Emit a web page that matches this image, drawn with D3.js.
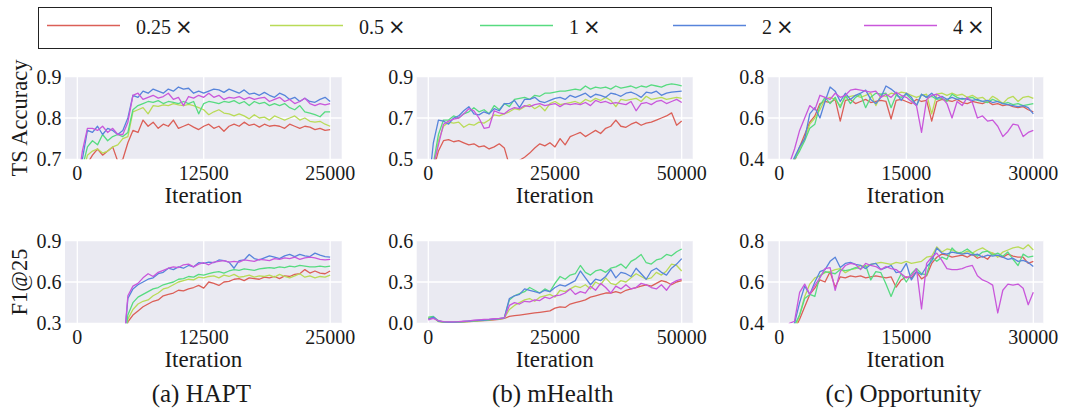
<!DOCTYPE html>
<html>
<head>
<meta charset="utf-8">
<script src="https://cdn.jsdelivr.net/npm/d3@7"></script>
<style>
  body { margin: 0; background: #fff; }
  svg text { font-family: "Liberation Serif", Tinos, "Times New Roman", Times, serif; fill: #1a1a1a; }
</style>
</head>
<body>
<svg id="chart" width="1066" height="413"></svg>
<script>
// legend / series
const seriesNames = ["0.25", "0.5", "1", "2", "4"];
const colors = ["#db5f57", "#b9db57", "#57db80", "#5784db", "#c957db"];

// evaluation iterations
const haptIters = d3.range(0, 25001, 500);
const mhIters = d3.range(0, 50001, 1000);
const oppIters = d3.range(0, 30001, 600);

const haptTicks = [0, 12500, 25000];
const mhTicks = [0, 25000, 50000];
const oppTicks = [0, 15000, 30000];

// HAPT - TS accuracy
const haptAcc025 = [0.55,0.64,0.69,0.71,0.725,0.71,0.72,0.73,0.695,0.7,0.74,0.77,0.765,0.795,0.78,0.79,0.775,0.785,0.78,0.795,0.775,0.78,0.785,0.778,0.772,0.78,0.785,0.775,0.78,0.768,0.78,0.785,0.78,0.79,0.782,0.785,0.778,0.785,0.78,0.782,0.78,0.775,0.785,0.78,0.775,0.78,0.778,0.772,0.775,0.77,0.772];
const haptAcc05 = [0.58,0.66,0.71,0.72,0.725,0.715,0.72,0.73,0.735,0.75,0.755,0.815,0.82,0.825,0.81,0.83,0.828,0.832,0.83,0.835,0.832,0.83,0.833,0.83,0.825,0.82,0.808,0.815,0.82,0.812,0.81,0.805,0.81,0.805,0.798,0.808,0.8,0.802,0.795,0.805,0.8,0.795,0.8,0.805,0.795,0.8,0.792,0.79,0.792,0.785,0.78];
const haptAcc1 = [0.6,0.68,0.73,0.745,0.735,0.76,0.745,0.755,0.76,0.755,0.765,0.82,0.83,0.835,0.84,0.838,0.842,0.835,0.84,0.838,0.835,0.84,0.835,0.84,0.81,0.835,0.84,0.838,0.835,0.84,0.838,0.842,0.835,0.84,0.83,0.84,0.835,0.838,0.83,0.835,0.83,0.835,0.825,0.82,0.83,0.815,0.812,0.808,0.803,0.815,0.815];
const haptAcc2 = [0.62,0.7,0.77,0.765,0.78,0.76,0.775,0.77,0.76,0.77,0.8,0.855,0.85,0.865,0.86,0.87,0.865,0.86,0.87,0.865,0.875,0.87,0.872,0.86,0.865,0.86,0.865,0.87,0.868,0.862,0.87,0.865,0.86,0.868,0.858,0.86,0.855,0.862,0.855,0.85,0.86,0.855,0.845,0.85,0.84,0.848,0.84,0.838,0.845,0.85,0.84];
const haptAcc4 = [0.63,0.72,0.775,0.775,0.77,0.78,0.765,0.775,0.76,0.76,0.79,0.855,0.86,0.845,0.85,0.855,0.848,0.852,0.86,0.845,0.85,0.83,0.852,0.848,0.855,0.85,0.86,0.85,0.855,0.845,0.85,0.848,0.852,0.845,0.85,0.845,0.848,0.85,0.84,0.845,0.85,0.84,0.845,0.835,0.84,0.848,0.835,0.83,0.835,0.832,0.835];

// HAPT - F1@25
const haptF1025 = [0.05,0.05,0.05,0.05,0.05,0.05,0.05,0.05,0.05,0.05,0.31,0.36,0.39,0.42,0.44,0.46,0.47,0.5,0.51,0.52,0.54,0.535,0.55,0.56,0.575,0.555,0.6,0.59,0.575,0.6,0.605,0.62,0.625,0.61,0.63,0.625,0.62,0.635,0.63,0.64,0.625,0.645,0.64,0.655,0.66,0.69,0.665,0.68,0.665,0.66,0.68];
const haptF105 = [0.05,0.05,0.05,0.05,0.05,0.05,0.05,0.05,0.05,0.05,0.33,0.4,0.44,0.46,0.47,0.5,0.52,0.55,0.56,0.58,0.6,0.61,0.62,0.615,0.635,0.63,0.64,0.645,0.63,0.65,0.64,0.655,0.635,0.64,0.65,0.635,0.645,0.64,0.65,0.635,0.655,0.64,0.63,0.645,0.66,0.635,0.645,0.63,0.64,0.635,0.65];
const haptF11 = [0.05,0.05,0.05,0.05,0.05,0.05,0.05,0.05,0.05,0.05,0.36,0.45,0.49,0.51,0.53,0.55,0.56,0.58,0.59,0.6,0.62,0.625,0.64,0.635,0.655,0.65,0.66,0.67,0.675,0.665,0.68,0.69,0.685,0.695,0.69,0.685,0.695,0.7,0.705,0.7,0.71,0.705,0.715,0.71,0.72,0.715,0.71,0.71,0.715,0.71,0.715];
const haptF12 = [0.05,0.05,0.05,0.05,0.05,0.05,0.05,0.05,0.05,0.05,0.48,0.55,0.58,0.6,0.62,0.63,0.66,0.67,0.7,0.69,0.71,0.7,0.72,0.71,0.74,0.735,0.745,0.74,0.76,0.755,0.745,0.7,0.755,0.76,0.8,0.77,0.76,0.775,0.79,0.78,0.77,0.79,0.8,0.785,0.8,0.79,0.785,0.81,0.795,0.785,0.78];
const haptF14 = [0.05,0.05,0.05,0.05,0.05,0.05,0.05,0.05,0.05,0.05,0.5,0.57,0.59,0.63,0.66,0.64,0.67,0.685,0.7,0.71,0.705,0.725,0.73,0.71,0.73,0.74,0.725,0.745,0.75,0.755,0.745,0.75,0.745,0.76,0.755,0.75,0.765,0.76,0.755,0.77,0.765,0.775,0.77,0.78,0.765,0.775,0.78,0.775,0.765,0.76,0.765];

// mHealth - TS accuracy
const mhAcc025 = [0.3,0.45,0.54,0.59,0.595,0.585,0.59,0.58,0.57,0.575,0.56,0.565,0.55,0.56,0.575,0.555,0.47,0.48,0.495,0.51,0.53,0.555,0.575,0.565,0.58,0.56,0.6,0.57,0.61,0.62,0.63,0.61,0.625,0.64,0.625,0.65,0.66,0.69,0.66,0.655,0.67,0.68,0.665,0.675,0.68,0.69,0.7,0.71,0.725,0.665,0.685];
const mhAcc05 = [0.3,0.45,0.59,0.66,0.68,0.675,0.68,0.655,0.67,0.665,0.68,0.675,0.69,0.715,0.71,0.72,0.73,0.745,0.74,0.755,0.765,0.745,0.76,0.735,0.77,0.78,0.765,0.77,0.775,0.78,0.77,0.79,0.78,0.795,0.785,0.8,0.785,0.755,0.79,0.785,0.79,0.795,0.78,0.805,0.79,0.795,0.8,0.79,0.795,0.8,0.795];
const mhAcc1 = [0.3,0.48,0.62,0.69,0.69,0.71,0.7,0.72,0.73,0.75,0.73,0.74,0.72,0.76,0.74,0.77,0.755,0.79,0.795,0.8,0.79,0.81,0.805,0.82,0.82,0.825,0.83,0.83,0.835,0.84,0.835,0.855,0.84,0.85,0.845,0.85,0.84,0.855,0.845,0.85,0.855,0.845,0.855,0.85,0.86,0.855,0.85,0.86,0.865,0.862,0.855];
const mhAcc2 = [0.35,0.58,0.69,0.685,0.67,0.7,0.71,0.735,0.755,0.72,0.715,0.73,0.72,0.745,0.735,0.77,0.77,0.785,0.75,0.79,0.79,0.8,0.78,0.775,0.785,0.795,0.8,0.79,0.81,0.8,0.81,0.82,0.8,0.815,0.81,0.8,0.82,0.815,0.805,0.82,0.825,0.815,0.8,0.825,0.82,0.83,0.81,0.82,0.825,0.828,0.83];
const mhAcc4 = [0.3,0.47,0.57,0.67,0.685,0.695,0.7,0.72,0.745,0.735,0.7,0.65,0.655,0.735,0.725,0.72,0.74,0.75,0.745,0.76,0.755,0.765,0.77,0.76,0.765,0.77,0.755,0.77,0.765,0.77,0.765,0.775,0.76,0.785,0.775,0.78,0.77,0.775,0.77,0.765,0.78,0.735,0.77,0.775,0.765,0.78,0.785,0.77,0.78,0.79,0.775];

// mHealth - F1@25
const mhF1025 = [0.035,0.04,0.015,0.008,0.006,0.006,0.008,0.01,0.012,0.015,0.018,0.02,0.022,0.025,0.028,0.035,0.05,0.055,0.06,0.065,0.07,0.075,0.08,0.085,0.09,0.11,0.12,0.115,0.14,0.15,0.16,0.17,0.19,0.2,0.21,0.22,0.22,0.23,0.22,0.24,0.25,0.26,0.27,0.28,0.27,0.29,0.31,0.3,0.28,0.3,0.31];
const mhF105 = [0.04,0.045,0.012,0.007,0.006,0.007,0.009,0.011,0.013,0.016,0.02,0.022,0.025,0.028,0.03,0.038,0.1,0.13,0.15,0.17,0.18,0.16,0.19,0.2,0.21,0.19,0.24,0.23,0.25,0.27,0.26,0.28,0.25,0.3,0.28,0.33,0.29,0.28,0.31,0.3,0.33,0.36,0.34,0.32,0.33,0.37,0.35,0.38,0.43,0.42,0.38];
const mhF11 = [0.045,0.05,0.018,0.01,0.008,0.008,0.01,0.012,0.015,0.018,0.02,0.022,0.025,0.03,0.032,0.04,0.17,0.2,0.215,0.23,0.26,0.24,0.22,0.25,0.23,0.29,0.34,0.32,0.35,0.36,0.42,0.37,0.35,0.38,0.39,0.37,0.4,0.41,0.43,0.4,0.45,0.47,0.5,0.44,0.43,0.46,0.47,0.5,0.49,0.52,0.54];
const mhF12 = [0.03,0.045,0.015,0.01,0.008,0.009,0.01,0.013,0.016,0.019,0.022,0.024,0.027,0.03,0.034,0.04,0.18,0.2,0.21,0.25,0.24,0.23,0.22,0.24,0.23,0.26,0.28,0.27,0.29,0.31,0.38,0.33,0.28,0.32,0.31,0.34,0.39,0.33,0.37,0.36,0.34,0.4,0.36,0.32,0.38,0.4,0.37,0.35,0.4,0.43,0.47];
const mhF14 = [0.025,0.035,0.02,0.012,0.01,0.01,0.012,0.015,0.018,0.022,0.025,0.028,0.03,0.033,0.036,0.04,0.13,0.15,0.14,0.16,0.155,0.17,0.165,0.19,0.18,0.2,0.205,0.22,0.25,0.21,0.23,0.22,0.27,0.24,0.29,0.26,0.22,0.27,0.25,0.28,0.25,0.26,0.29,0.28,0.26,0.25,0.28,0.24,0.29,0.31,0.32];

// Opportunity - TS accuracy
const oppAcc025 = [0.22,0.28,0.34,0.39,0.46,0.52,0.58,0.61,0.67,0.68,0.675,0.69,0.585,0.685,0.69,0.67,0.68,0.69,0.675,0.68,0.685,0.68,0.595,0.685,0.69,0.68,0.67,0.69,0.68,0.685,0.585,0.68,0.69,0.685,0.68,0.69,0.675,0.67,0.68,0.675,0.67,0.68,0.665,0.67,0.66,0.665,0.655,0.65,0.655,0.64,0.63];
const oppAcc05 = [0.22,0.29,0.34,0.4,0.45,0.5,0.57,0.6,0.64,0.69,0.7,0.69,0.66,0.7,0.705,0.71,0.7,0.71,0.72,0.66,0.71,0.705,0.72,0.715,0.725,0.72,0.71,0.7,0.71,0.715,0.62,0.715,0.72,0.71,0.72,0.71,0.715,0.7,0.71,0.695,0.7,0.68,0.705,0.69,0.67,0.695,0.705,0.68,0.7,0.705,0.695];
const oppAcc1 = [0.22,0.28,0.33,0.4,0.44,0.49,0.55,0.57,0.66,0.7,0.67,0.7,0.65,0.71,0.67,0.7,0.715,0.65,0.7,0.72,0.715,0.72,0.65,0.71,0.7,0.715,0.69,0.66,0.715,0.7,0.705,0.69,0.695,0.68,0.715,0.7,0.69,0.695,0.7,0.685,0.68,0.675,0.69,0.68,0.67,0.675,0.665,0.67,0.66,0.665,0.67];
const oppAcc2 = [0.22,0.3,0.36,0.41,0.46,0.5,0.62,0.65,0.6,0.68,0.75,0.73,0.68,0.72,0.69,0.71,0.72,0.735,0.69,0.67,0.7,0.755,0.74,0.72,0.685,0.72,0.7,0.66,0.715,0.7,0.72,0.695,0.705,0.69,0.7,0.69,0.695,0.69,0.685,0.69,0.68,0.685,0.675,0.68,0.67,0.665,0.66,0.655,0.66,0.65,0.62];
const oppAcc4 = [0.25,0.32,0.38,0.45,0.54,0.6,0.66,0.64,0.71,0.7,0.69,0.72,0.7,0.71,0.735,0.74,0.735,0.73,0.725,0.73,0.7,0.715,0.7,0.725,0.71,0.7,0.68,0.66,0.53,0.69,0.71,0.715,0.7,0.67,0.6,0.68,0.66,0.7,0.675,0.6,0.61,0.585,0.59,0.56,0.51,0.535,0.57,0.565,0.51,0.53,0.54];

// Opportunity - F1@25
const oppF1025 = [0.3,0.32,0.34,0.37,0.42,0.48,0.54,0.57,0.61,0.6,0.65,0.575,0.625,0.62,0.63,0.625,0.63,0.62,0.625,0.63,0.625,0.62,0.625,0.575,0.61,0.625,0.62,0.65,0.615,0.63,0.69,0.72,0.735,0.73,0.72,0.725,0.73,0.72,0.735,0.715,0.725,0.71,0.74,0.725,0.72,0.735,0.725,0.72,0.72,0.69,0.7];
const oppF105 = [0.3,0.32,0.35,0.37,0.44,0.53,0.59,0.62,0.63,0.645,0.65,0.66,0.665,0.645,0.66,0.665,0.68,0.675,0.685,0.69,0.695,0.69,0.685,0.695,0.69,0.7,0.69,0.695,0.7,0.72,0.725,0.77,0.745,0.76,0.755,0.745,0.735,0.75,0.74,0.755,0.765,0.75,0.74,0.72,0.745,0.755,0.765,0.77,0.76,0.78,0.755];
const oppF11 = [0.3,0.33,0.36,0.39,0.44,0.52,0.54,0.53,0.63,0.65,0.645,0.64,0.66,0.655,0.66,0.67,0.665,0.68,0.61,0.65,0.645,0.59,0.53,0.59,0.64,0.6,0.64,0.665,0.64,0.635,0.72,0.7,0.72,0.71,0.765,0.74,0.745,0.76,0.74,0.725,0.745,0.75,0.73,0.74,0.725,0.745,0.71,0.68,0.735,0.72,0.725];
const oppF12 = [0.3,0.33,0.36,0.4,0.5,0.58,0.54,0.6,0.65,0.66,0.7,0.72,0.67,0.69,0.695,0.685,0.68,0.665,0.685,0.69,0.66,0.67,0.68,0.645,0.65,0.69,0.61,0.65,0.635,0.675,0.7,0.765,0.74,0.735,0.745,0.74,0.735,0.74,0.73,0.735,0.72,0.73,0.725,0.73,0.72,0.71,0.715,0.7,0.705,0.695,0.675];
const oppF14 = [0.3,0.35,0.4,0.41,0.55,0.59,0.54,0.585,0.62,0.665,0.67,0.56,0.65,0.68,0.69,0.685,0.66,0.69,0.68,0.675,0.66,0.675,0.665,0.66,0.64,0.62,0.63,0.665,0.47,0.69,0.72,0.74,0.705,0.665,0.66,0.66,0.665,0.675,0.68,0.63,0.61,0.6,0.585,0.45,0.56,0.59,0.585,0.59,0.57,0.49,0.55];

const captions = ["(a) HAPT", "(b) mHealth", "(c) Opportunity"];
const rowLabels = ["TS Accuracy", "F1@25"];

// layout
const colX = [[65, 341.7], [416.7, 692.7], [767.7, 1043.3]];
const rowY = [[76.7, 159.3], [240.7, 323.3]];

const panels = [
  {col: 0, row: 0, iters: haptIters, series: [haptAcc025, haptAcc05, haptAcc1, haptAcc2, haptAcc4], xDom: [-1217, 26144], yDom: [0.7, 0.9], xTicks: haptTicks, yTicks: [0.7, 0.8, 0.9]},
  {col: 1, row: 0, iters: mhIters, series: [mhAcc025, mhAcc05, mhAcc1, mhAcc2, mhAcc4], xDom: [-2288, 52170], yDom: [0.5, 0.9], xTicks: mhTicks, yTicks: [0.5, 0.7, 0.9]},
  {col: 2, row: 0, iters: oppIters, series: [oppAcc025, oppAcc05, oppAcc1, oppAcc2, oppAcc4], xDom: [-1370, 31181], yDom: [0.4, 0.8], xTicks: oppTicks, yTicks: [0.4, 0.6, 0.8]},
  {col: 0, row: 1, iters: haptIters, series: [haptF1025, haptF105, haptF11, haptF12, haptF14], xDom: [-1217, 26144], yDom: [0.3, 0.9], xTicks: haptTicks, yTicks: [0.3, 0.6, 0.9]},
  {col: 1, row: 1, iters: mhIters, series: [mhF1025, mhF105, mhF11, mhF12, mhF14], xDom: [-2288, 52170], yDom: [0, 0.6], xTicks: mhTicks, yTicks: [0, 0.3, 0.6]},
  {col: 2, row: 1, iters: oppIters, series: [oppF1025, oppF105, oppF11, oppF12, oppF14], xDom: [-1370, 31181], yDom: [0.4, 0.8], xTicks: oppTicks, yTicks: [0.4, 0.6, 0.8]}
];

const svg = d3.select("#chart");
const defs = svg.append("defs");

panels.forEach((p, k) => {
  const [x0, x1] = colX[p.col];
  const [y0, y1] = rowY[p.row];
  const x = d3.scaleLinear().domain(p.xDom).range([x0, x1]);
  const y = d3.scaleLinear().domain(p.yDom).range([y1, y0]);
  const g = svg.append("g");

  g.append("rect").attr("x", x0).attr("y", y0).attr("width", x1 - x0).attr("height", y1 - y0)
    .attr("fill", "#eaeaf2");

  // grid
  g.selectAll(".vg").data(p.xTicks).join("line")
    .attr("x1", d => x(d)).attr("x2", d => x(d)).attr("y1", y0).attr("y2", y1)
    .attr("stroke", "#fff").attr("stroke-width", 1.3);
  g.selectAll(".hg").data(p.yTicks).join("line")
    .attr("class", "hg")
    .attr("x1", x0).attr("x2", x1).attr("y1", d => y(d)).attr("y2", d => y(d))
    .attr("stroke", "#fff").attr("stroke-width", 1.3);

  defs.append("clipPath").attr("id", "clip" + k).append("rect")
    .attr("x", x0).attr("y", y0).attr("width", x1 - x0).attr("height", y1 - y0);

  const line = d3.line().x((d, i) => x(p.iters[i])).y(d => y(d));
  g.append("g").attr("clip-path", `url(#clip${k})`)
    .selectAll("path").data(p.series).join("path")
    .attr("d", d => line(d))
    .attr("fill", "none")
    .attr("stroke", (d, i) => colors[i])
    .attr("stroke-width", 1.3)
    .attr("stroke-linejoin", "round");

  // ticks
  const fmt = d3.format(".1f");
  g.selectAll(".yt").data(p.yTicks).join("text")
    .attr("x", x0 - 3.5).attr("y", d => y(d)).attr("dy", "0.35em")
    .attr("text-anchor", "end").attr("font-size", 20).text(d => fmt(d));
  g.selectAll(".xt").data(p.xTicks).join("text")
    .attr("x", d => x(d)).attr("y", y1 + 20.5)
    .attr("text-anchor", "middle").attr("font-size", 20).text(d => d);

  g.append("text").attr("x", (x0 + x1) / 2).attr("y", y1 + 43.5)
    .attr("text-anchor", "middle").attr("font-size", 23).text("Iteration");

  if (p.col === 0) {
    g.append("text")
      .attr("transform", `translate(27,${(y0 + y1) / 2}) rotate(-90)`)
      .attr("text-anchor", "middle").attr("font-size", 22.5).text(rowLabels[p.row]);
  }
  if (p.row === 1) {
    g.append("text").attr("x", (x0 + x1) / 2 - 2).attr("y", 402)
      .attr("text-anchor", "middle").attr("font-size", 25).text(captions[p.col]);
  }
});

// legend
const leg = svg.append("g");
leg.append("rect").attr("x", 38.5).attr("y", 7.5).attr("width", 953).attr("height", 41)
  .attr("fill", "#fff").attr("stroke", "#222").attr("stroke-width", 1);
const legX = [47, 270, 480, 673, 864];
seriesNames.forEach((name, i) => {
  leg.append("line").attr("x1", legX[i]).attr("x2", legX[i] + 73)
    .attr("y1", 25.5).attr("y2", 25.5).attr("stroke", colors[i]).attr("stroke-width", 1.5);
  const t = leg.append("text").attr("x", legX[i] + 89).attr("y", 33.5).attr("font-size", 20);
  t.append("tspan").text(name);
  t.append("tspan").attr("font-family", "DejaVu Sans").attr("font-size", 21).attr("dx", 4).text("×");
});
</script>
</body>
</html>
